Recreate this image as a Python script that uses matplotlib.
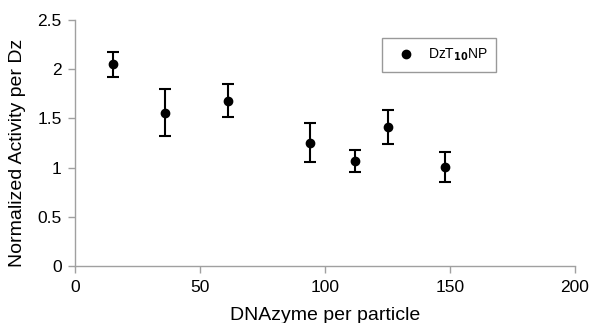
import numpy as np
import matplotlib.pyplot as plt

plt.rcParams['font.family'] = ['Liberation Sans', 'DejaVu Sans']

# data
dnazyme = [15, 36, 61, 94, 112, 125, 148]
activity = [2.05, 1.56, 1.68, 1.25, 1.065, 1.41, 1.005]
err_low = [0.13, 0.24, 0.17, 0.195, 0.11, 0.17, 0.15]
err_high = [0.13, 0.24, 0.17, 0.20, 0.115, 0.175, 0.15]

xticks = [0, 50, 100, 150, 200]
yticks = [0, 0.5, 1, 1.5, 2, 2.5]
ytick_labels = ["0", "0.5", "1", "1.5", "2", "2.5"]

fig = plt.figure(figsize=(5.92, 3.23), dpi=100)
ax = fig.add_axes([0.1275, 0.1765, 0.8435, 0.7615])

ax.errorbar(dnazyme, activity, yerr=[err_low, err_high], fmt='none', ecolor='black',
            elinewidth=1.5, capsize=4, capthick=1.5)
ax.plot(dnazyme, activity, 'o', color='black', markersize=6,
        label="DzT$_{\\mathbf{10}}$NP", zorder=3)

ax.set_xlim(0, 200)
ax.set_ylim(0, 2.5)
ax.set_xticks(xticks)
ax.set_yticks(yticks)
ax.set_yticklabels(ytick_labels)
ax.tick_params(labelsize=12.5, color='#a0a0a0', length=5, width=1, pad=5)

for s in ['top', 'right']:
    ax.spines[s].set_visible(False)
for s in ['left', 'bottom']:
    ax.spines[s].set_color('#a0a0a0')
    ax.spines[s].set_linewidth(1)

ax.set_xlabel("DNAzyme per particle", fontsize=14)
ax.set_ylabel("Normalized Activity per Dz", fontsize=14)
ax.xaxis.set_label_coords(0.5, -0.165)
ax.yaxis.set_label_coords(-0.1, 0.46)

leg = ax.legend(loc='upper left', bbox_to_anchor=(0.614, 0.925), fancybox=False,
                edgecolor='#808080', fontsize=10, handletextpad=0.5,
                handlelength=2.2, borderpad=0.6, borderaxespad=0)
leg.get_frame().set_linewidth(1)

fig.savefig("out.png", dpi=100)
